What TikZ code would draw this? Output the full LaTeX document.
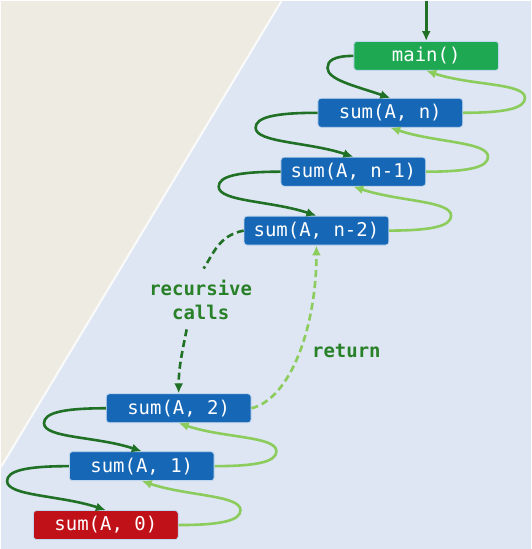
\documentclass[tikz,border=0pt]{standalone}
\usepackage{fontspec}
\setmonofont{DejaVu Sans Mono}
\usetikzlibrary{arrows.meta}
\definecolor{bgblue}{RGB}{221,230,242}
\definecolor{bgbeige}{RGB}{238,236,226}
\definecolor{funcblue}{RGB}{22,103,182}
\definecolor{maingreen}{RGB}{30,168,82}
\definecolor{basered}{RGB}{192,16,24}
\definecolor{nodeline}{RGB}{190,214,238}
\definecolor{calldark}{RGB}{32,112,38}
\definecolor{retlight}{RGB}{140,204,92}
\definecolor{labelgreen}{RGB}{40,128,40}
\tikzset{
  func/.style={draw=nodeline, line width=0.8pt, rounded corners=3pt,
    minimum width=145pt, minimum height=29pt, inner sep=0pt, text=white,
    font=\ttfamily\fontsize{19}{22}\selectfont},
  callarr/.style={calldark, line width=2.6pt, -{Latex[length=10pt,width=9pt]}},
  retarr/.style={retlight, line width=2.6pt, -{Latex[length=10pt,width=9pt]}},
  steplabel/.style={labelgreen, align=center, font=\ttfamily\bfseries\fontsize{19}{24}\selectfont}
}
\begin{document}
\begin{tikzpicture}[x=1pt,y=-1pt]
% background
\fill[bgblue] (0,0) rectangle (531,549);
\fill[bgbeige] (0,0) -- (281,0) -- (0,467) -- cycle;
\draw[white, line width=2pt, opacity=0.8] (281,0) -- (0,467);
\useasboundingbox (0,0) rectangle (531,549);

% the calls
\node[func, fill=maingreen] (main) at (426,55) {main()};
\node[func, fill=funcblue] (sumn) at (390,112) {sum(A, n)};
\node[func, fill=funcblue] (sumn1) at (353,171) {sum(A, n-1)};
\node[func, fill=funcblue] (sumn2) at (316,230) {sum(A, n-2)};
\node[func, fill=funcblue] (sum2) at (178,408) {sum(A, 2)};
\node[func, fill=funcblue] (sum1) at (141,466) {sum(A, 1)};
\node[func, fill=basered] (sum0) at (105,525) {sum(A, 0)};

\node[steplabel] (reclabel) at (200,299) {recursive\\calls};
\node[steplabel] (retlabel) at (346,351) {return};

\coordinate (start) at (426,0);
\coordinate (rec1) at (203,268);
\coordinate (rec2) at (186,329);

% call arrows
\draw[callarr] (start) -- (main.north);
\draw[callarr] (main.west) .. controls +(-20,0) and +(0,-7) .. ++(-26,12)
  .. controls +(0,12) and +(-35,-12) .. (sumn.north);
\foreach \a/\b in {sumn/sumn1, sumn1/sumn2, sum2/sum1, sum1/sum0}
  \draw[callarr] (\a.west) .. controls +(-45,0) and +(0,-10) .. ++(-62,15)
    .. controls +(0,15) and +(-45,-15) .. (\b.north);
\draw[callarr, dashed, dash pattern=on 7pt off 4pt, -] (sumn2.west) .. controls +(-25,5) and +(10,-15) .. (rec1);
\draw[callarr, dashed, dash pattern=on 7pt off 4pt] (rec2) .. controls +(-5,25) and +(0,-25) .. (sum2.north);

% return arrows
\foreach \a/\b in {sum0/sum1, sum1/sum2, sumn2/sumn1, sumn1/sumn, sumn/main}
  \draw[retarr] (\a.east) .. controls +(45,0) and +(0,10) .. ++(62,-15)
    .. controls +(0,-15) and +(45,15) .. (\b.south);
\draw[retarr, dashed, dash pattern=on 7pt off 4pt] (sum2.east) .. controls +(40,-10) and +(0,80) .. (sumn2.south);
\end{tikzpicture}
\end{document}
